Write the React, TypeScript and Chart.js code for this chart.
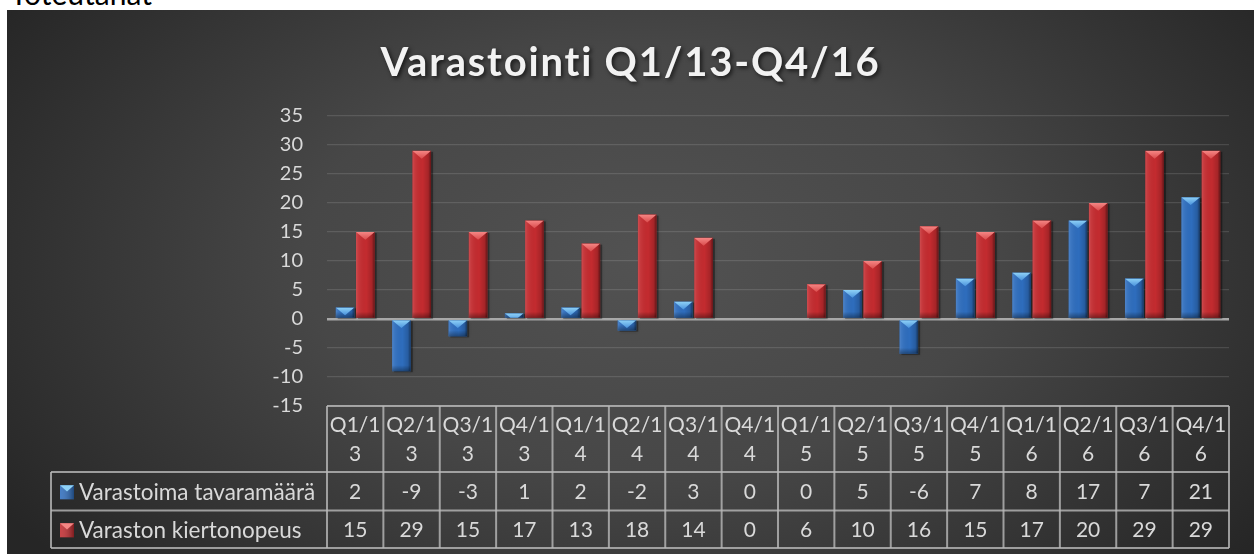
import React, { useEffect, useRef } from "react";
import { Chart, registerables } from "chart.js";

Chart.register(...registerables);

// ---------- data ----------
const pageNote = "Toteutanat";
const chartTitle = "Varastointi Q1/13-Q4/16";
const categories = [
  "Q1/13", "Q2/13", "Q3/13", "Q4/13",
  "Q1/14", "Q2/14", "Q3/14", "Q4/14",
  "Q1/15", "Q2/15", "Q3/15", "Q4/15",
  "Q1/16", "Q2/16", "Q3/16", "Q4/16",
];
const seriesNames = ["Varastoima tavaramäärä", "Varaston kiertonopeus"];
const varastoimaTavaramaara = [2, -9, -3, 1, 2, -2, 3, 0, 0, 5, -6, 7, 8, 17, 7, 21];
const varastonKiertonopeus = [15, 29, 15, 17, 13, 18, 14, 0, 6, 10, 16, 15, 17, 20, 29, 29];
const yMin = -15;
const yMax = 35;
const yStep = 5;

// ---------- styles ----------
const FONT = "Lato, 'Open Sans', sans-serif";
const TEXT = "#d9d9d9";
const TABLE_LINE = "rgba(185,185,185,0.8)";
const ROW_H = [66, 38.6, 37.4];
const LEGEND_LEFT = 44;
const CANVAS_W = 1247;
const CANVAS_H = 544;
const barStyles = [
  { base: "#2e6dbd", light: "#8fd2f7", mid: "#4a92dc" },
  { base: "#c32b2f", light: "#f58684", mid: "#da4c4d" },
];

function wrapText(ctx: CanvasRenderingContext2D, text: string, maxW: number): string[] {
  const lines: string[] = [];
  let cur = "";
  for (const ch of text) {
    if (cur && ctx.measureText(cur + ch).width > maxW) {
      lines.push(cur);
      cur = ch;
    } else cur += ch;
  }
  if (cur) lines.push(cur);
  return lines;
}

const bgPlugin = {
  id: "bg",
  beforeDraw(chart: any) {
    const { ctx, width, height } = chart;
    ctx.save();
    ctx.fillStyle = "#262626";
    ctx.fillRect(0, 0, width, height);
    ctx.translate(640, 250);
    ctx.scale(1, 0.62);
    const g = ctx.createRadialGradient(0, 0, 0, 0, 0, 760);
    g.addColorStop(0, "#525252");
    g.addColorStop(0.45, "#474747");
    g.addColorStop(1, "#262626");
    ctx.fillStyle = g;
    ctx.fillRect(-1400, -1400, 2800, 2800);
    ctx.restore();
    // title
    ctx.save();
    ctx.font = `bold 40px ${FONT}`;
    (ctx as any).letterSpacing = "1.8px";
    ctx.textAlign = "center";
    ctx.textBaseline = "alphabetic";
    ctx.shadowColor = "rgba(0,0,0,0.65)";
    ctx.shadowBlur = 4;
    ctx.shadowOffsetX = 2;
    ctx.shadowOffsetY = 2;
    ctx.fillStyle = "#f2f2f2";
    ctx.fillText(chartTitle, width / 2, 66);
    ctx.restore();
  },
};

function barRects(chart: any) {
  const out: any[] = [];
  chart.data.datasets.forEach((_: any, di: number) => {
    const meta = chart.getDatasetMeta(di);
    meta.data.forEach((el: any) => {
      const { x, y, base, width } = el.getProps(["x", "y", "base", "width"], true);
      const top = Math.min(y, base);
      const bottom = Math.max(y, base);
      if (bottom - top < 0.5) return;
      out.push({ di, x, w: width, left: x - width / 2, right: x + width / 2, top, bottom });
    });
  });
  return out;
}

const barDecor = {
  id: "barDecor",
  beforeDatasetsDraw(chart: any) {
    const { ctx } = chart;
    ctx.save();
    for (const r of barRects(chart)) {
      ctx.fillStyle = "rgba(0,0,0,0.35)";
      ctx.shadowColor = "rgba(0,0,0,0.5)";
      ctx.shadowBlur = 3;
      ctx.fillRect(r.left + 2, r.top + 1, r.w, r.bottom - r.top);
    }
    ctx.restore();
  },
  afterDatasetsDraw(chart: any) {
    const { ctx } = chart;
    for (const r of barRects(chart)) {
      const st = barStyles[r.di];
      const h = r.bottom - r.top;
      ctx.save();
      ctx.beginPath();
      ctx.rect(r.left, r.top, r.w, h);
      ctx.clip();
      const g = ctx.createLinearGradient(r.left, 0, r.right, 0);
      g.addColorStop(0, "rgba(255,255,255,0.16)");
      g.addColorStop(0.12, "rgba(255,255,255,0.07)");
      g.addColorStop(0.55, "rgba(0,0,0,0)");
      g.addColorStop(0.85, "rgba(0,0,0,0.15)");
      g.addColorStop(1, "rgba(0,0,0,0.5)");
      ctx.fillStyle = g;
      ctx.fillRect(r.left, r.top, r.w, h);
      const gv = ctx.createLinearGradient(0, r.bottom - 6, 0, r.bottom);
      gv.addColorStop(0, "rgba(0,0,0,0)");
      gv.addColorStop(1, "rgba(0,0,0,0.35)");
      ctx.fillStyle = gv;
      ctx.fillRect(r.left, r.bottom - 6, r.w, 6);
      const depth = r.w * 0.42;
      const gt = ctx.createLinearGradient(0, r.top, 0, r.top + depth);
      gt.addColorStop(0, st.light);
      gt.addColorStop(1, st.mid);
      ctx.fillStyle = gt;
      ctx.beginPath();
      ctx.moveTo(r.left, r.top);
      ctx.lineTo(r.right, r.top);
      ctx.lineTo(r.x, r.top + depth);
      ctx.closePath();
      ctx.fill();
      ctx.restore();
    }
  },
};

function drawMarker(ctx: CanvasRenderingContext2D, x: number, y: number, s: number, st: any) {
  ctx.fillStyle = st.base;
  ctx.fillRect(x, y, s, s);
  const g = ctx.createLinearGradient(x, 0, x + s, 0);
  g.addColorStop(0, "rgba(255,255,255,0.12)");
  g.addColorStop(1, "rgba(0,0,0,0.35)");
  ctx.fillStyle = g;
  ctx.fillRect(x, y, s, s);
  ctx.fillStyle = st.light;
  ctx.beginPath();
  ctx.moveTo(x, y);
  ctx.lineTo(x + s, y);
  ctx.lineTo(x + s / 2, y + s * 0.45);
  ctx.closePath();
  ctx.fill();
}

const tablePlugin = {
  id: "dataTable",
  afterDraw(chart: any) {
    const { ctx, chartArea: a } = chart;
    const xs = chart.scales.x;
    const n = categories.length;
    const colW = (a.right - a.left) / n;
    const top = a.bottom;
    const r1 = top + ROW_H[0];
    const r2 = r1 + ROW_H[1];
    const r3 = r2 + ROW_H[2];
    ctx.save();
    ctx.strokeStyle = TABLE_LINE;
    ctx.lineWidth = 2;
    const line = (x1: number, y1: number, x2: number, y2: number) => {
      ctx.beginPath();
      ctx.moveTo(x1, y1);
      ctx.lineTo(x2, y2);
      ctx.stroke();
    };
    line(a.left, top, a.right, top);
    [r1, r2, r3].forEach((yy) => line(LEGEND_LEFT, yy, a.right, yy));
    line(LEGEND_LEFT, r1, LEGEND_LEFT, r3);
    for (let i = 0; i <= n; i++) {
      const xx = a.left + i * colW;
      line(xx, top, xx, r3);
    }
    ctx.fillStyle = TEXT;
    ctx.font = `21px ${FONT}`;
    ctx.textAlign = "center";
    ctx.textBaseline = "middle";
    categories.forEach((c, i) => {
      const cx = xs.getPixelForValue(i);
      const lines = wrapText(ctx, c, colW - 4);
      lines.forEach((ln, j) => {
        ctx.fillText(ln, cx, top + ROW_H[0] / 2 + (j - (lines.length - 1) / 2) * 29 + 1);
      });
    });
    const rowsData = [varastoimaTavaramaara, varastonKiertonopeus];
    const rowCenters = [r1 + ROW_H[1] / 2 + 1, r2 + ROW_H[2] / 2 + 1];
    rowsData.forEach((vals, ri) => {
      vals.forEach((v, i) => {
        ctx.fillText(String(v), xs.getPixelForValue(i), rowCenters[ri]);
      });
    });
    ctx.textAlign = "left";
    ctx.font = `22.5px ${FONT}`;
    seriesNames.forEach((name, ri) => {
      drawMarker(ctx, LEGEND_LEFT + 9, rowCenters[ri] - 7, 14, barStyles[ri]);
      ctx.fillStyle = TEXT;
      ctx.fillText(name, LEGEND_LEFT + 28, rowCenters[ri]);
    });
    ctx.restore();
  },
};

export default function App() {
  const ref = useRef<HTMLCanvasElement | null>(null);
  useEffect(() => {
    if (!ref.current) return;
    const chart = new Chart(ref.current, {
      type: "bar",
      data: {
        labels: categories,
        datasets: [
          { label: seriesNames[0], data: varastoimaTavaramaara, backgroundColor: barStyles[0].base, borderWidth: 0 },
          { label: seriesNames[1], data: varastonKiertonopeus, backgroundColor: barStyles[1].base, borderWidth: 0 },
        ],
      },
      options: {
        animation: false,
        responsive: false,
        events: [],
        layout: { padding: { top: 106, right: 25, bottom: 148, left: 0 } },
        datasets: { bar: { categoryPercentage: 0.72, barPercentage: 0.92 } },
        plugins: { legend: { display: false }, title: { display: false }, tooltip: { enabled: false } },
        scales: {
          x: { display: false },
          y: {
            min: yMin,
            max: yMax,
            afterFit: (s: any) => { s.width = 320; },
            border: { display: false },
            grid: {
              drawTicks: false,
              color: (c: any) => (c.tick && c.tick.value === 0 ? "#a8a8a8" : "rgba(255,255,255,0.12)"),
              lineWidth: (c: any) => (c.tick && c.tick.value === 0 ? 2.5 : 1.2),
            },
            ticks: { stepSize: yStep, color: TEXT, padding: 24, font: { family: FONT, size: 20 } },
          },
        },
      },
      plugins: [bgPlugin, barDecor, tablePlugin],
    });
    return () => chart.destroy();
  }, []);
  return (
    <>
      <div style={{ position: "absolute", left: 10, top: -22, fontFamily: FONT, fontSize: 30, lineHeight: "30px", color: "#000", whiteSpace: "nowrap" }}>
        {pageNote}
      </div>
      <div style={{ position: "absolute", left: 7, top: 10, width: CANVAS_W, height: CANVAS_H }}>
        <canvas ref={ref} width={CANVAS_W} height={CANVAS_H} style={{ width: CANVAS_W, height: CANVAS_H, display: "block" }} />
      </div>
    </>
  );
}
